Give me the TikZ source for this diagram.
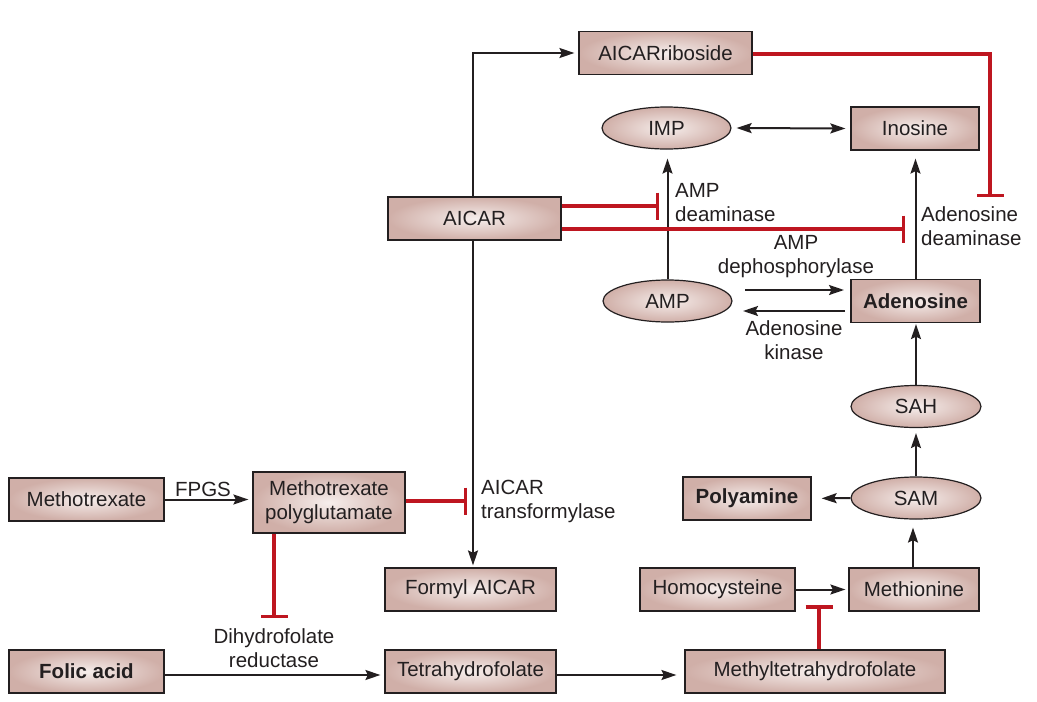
\documentclass[tikz,border=0pt]{standalone}
\usepackage{fontspec}
\setmainfont{Liberation Sans}
\usetikzlibrary{arrows.meta,shapes.geometric}
\definecolor{boxin}{HTML}{F6EEEC}
\definecolor{boxout}{HTML}{D0AFA8}
\definecolor{inh}{HTML}{BE1620}
\definecolor{edge}{HTML}{231F20}
\begin{document}
\begin{tikzpicture}[x=1pt,y=-1pt,
 font=\fontsize{20.5}{24}\selectfont,
 box/.style={draw=edge, line width=1.2pt, inner color=boxin, outer color=boxout, minimum height=43pt, inner sep=0pt, align=center, text=edge},
 oval/.style={box, ellipse, minimum width=129pt, minimum height=42pt},
 tipa/.tip={Stealth[length=15pt,width=10pt,inset=2.5pt]},
 act/.style={draw=edge, line width=2pt, -tipa},
 bi/.style={draw=edge, line width=2pt, tipa-tipa},
 inhib/.style={draw=inh, line width=3.5pt, -{Bar[width=27pt]}},
 lbl/.style={align=left, text=edge, inner sep=0pt},
 clbl/.style={align=center, text=edge, inner sep=0pt}
]
\useasboundingbox (0,0) rectangle (1037,702);
% nodes
\node[box, minimum width=173pt] (rib) at (665.5,53) {AICARriboside};
\node[oval] (imp) at (666.5,128) {IMP};
\node[box, minimum width=128pt] (ino) at (915,128.5) {Inosine};
\node[box, minimum width=173pt] (aicar) at (474.5,218.5) {AICAR};
\node[oval] (amp) at (667.5,301) {AMP};
\node[box, minimum width=129pt] (ado) at (915.5,301) {\bfseries Adenosine};
\node[oval, minimum width=130pt] (sah) at (916,406.5) {SAH};
\node[oval, minimum width=130pt] (sam) at (916,498) {SAM};
\node[box, minimum width=128pt] (poly) at (747,498.5) {\bfseries Polyamine};
\node[box, minimum width=155pt] (mtx) at (86.5,499.5) {Methotrexate};
\node[box, minimum width=152pt, minimum height=61pt] (mp) at (329,502.5) {Methotrexate\\polyglutamate};
\node[box, minimum width=171pt] (fai) at (470.5,589.5) {Formyl AICAR};
\node[box, minimum width=155pt] (hcy) at (717.5,589.5) {Homocysteine};
\node[box, minimum width=130pt] (met) at (914,589.5) {Methionine};
\node[box, minimum width=155pt] (fa) at (86.5,671.5) {\bfseries Folic acid};
\node[box, minimum width=171pt] (thf) at (470.5,671.5) {Tetrahydrofolate};
\node[box, minimum width=260pt] (mthf) at (815,671.5) {Methyltetrahydrofolate};
% labels
\node[clbl] (lfpgs) at (203,489) {FPGS};
\node[lbl, anchor=west] (ltf) at (481,501) {AICAR\\transformylase};
\node[clbl] (ldhfr) at (274,648) {Dihydrofolate\\reductase};
\node[lbl, anchor=west] (lampd) at (675,203) {AMP\\deaminase};
\node[lbl, anchor=west] (ladod) at (921,226) {Adenosine\\deaminase};
\node[clbl] (ldeph) at (796,257) {AMP\\dephosphorylase};
\node[clbl] (lkin) at (794,340) {Adenosine\\kinase};
% coordinates
\coordinate (c1) at (rib.west -| 473,0);
\coordinate (b1) at (659,206);
\coordinate (b2) at (905,229);
\coordinate (c2) at (990,54);
\coordinate (b3) at (990,197);
\coordinate (b4) at (467,501);
\coordinate (b5) at (274,618);
\coordinate (b6) at (819,605);
\coordinate (r1) at (0,675);
\coordinate (k1) at (745,290);
\coordinate (k2) at (844,290);
\coordinate (k3) at (845,311);
\coordinate (k4) at (743,311);
% black connectors
\draw[act, shorten >=4pt] (aicar.north -| c1) -- (c1) -- (rib.west);
\draw[act, shorten >=2pt] (aicar.south -| c1) -- (fai.north -| c1);
\draw[act, shorten >=9pt] (amp.north) -- (imp.south -| amp.north);
\draw[bi, shorten <=5pt, shorten >=5pt] (imp.east) -- (ino.west);
\draw[act, shorten >=8pt] (ado.north) -- (ino.south -| ado.north);
\draw[act] (k1) -- (k2);
\draw[act] (k3) -- (k4);
\draw[act, shorten >=1pt] (sah.north) -- (ado.south -| sah.north);
\draw[act, shorten >=5pt] (sam.north) -- (sah.south);
\draw[act, shorten >=10pt] (sam.west) -- (poly.east);
\draw[act, shorten >=8pt] (met.north -| 913,0) -- (sam.south -| 913,0);
\draw[act, shorten >=3pt] (hcy.east) -- (met.west);
\draw[act, shorten >=4pt] (mtx.east) -- (mp.west |- mtx.east);
\draw[act, shorten >=4pt] (fa.east |- r1) -- (thf.west |- r1);
\draw[act, shorten >=8pt] (thf.east |- r1) -- (mthf.west |- r1);
% inhibitions
\draw[inhib] (aicar.east |- b1) -- (b1);
\draw[inhib] (aicar.east |- b2) -- (b2);
\draw[inhib] (rib.east |- c2) -- (c2) -- (b3);
\draw[inhib] (mp.east |- b4) -- (b4);
\draw[inhib] (mp.south -| b5) -- (b5);
\draw[inhib] (mthf.north -| b6) -- (b6);
\end{tikzpicture}
\end{document}
